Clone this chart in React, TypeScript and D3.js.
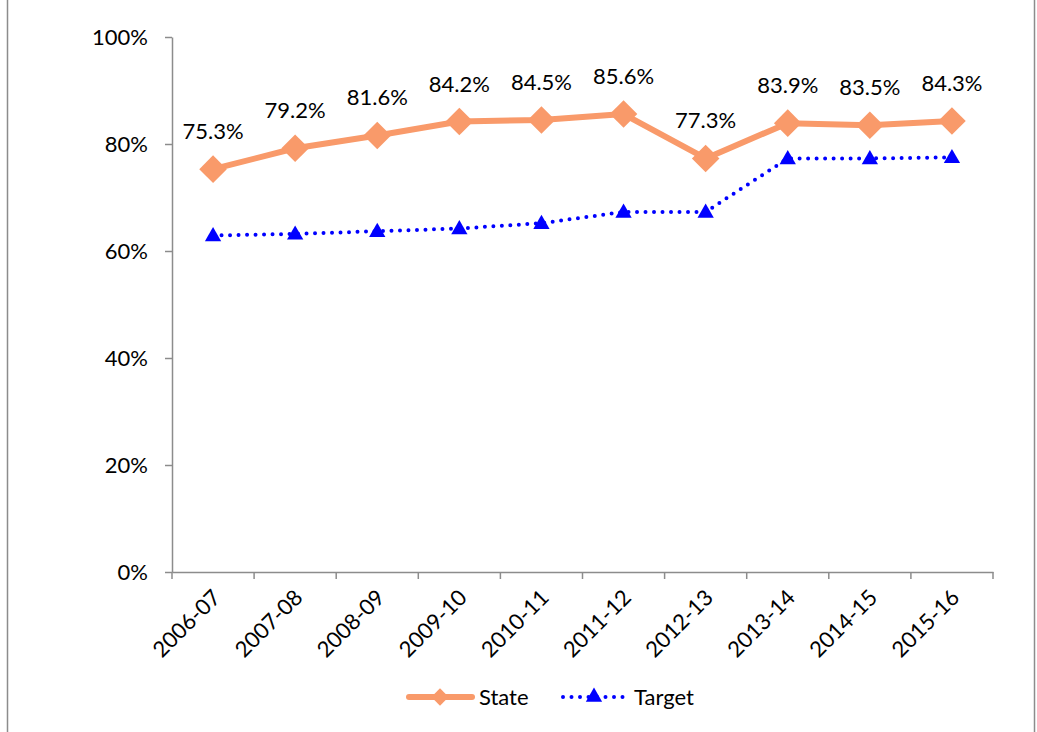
import { useRef, useEffect } from 'react';
import * as d3 from 'd3';

const years = ['2006-07', '2007-08', '2008-09', '2009-10', '2010-11', '2011-12', '2012-13', '2013-14', '2014-15', '2015-16'];
const stateValues = [75.3, 79.2, 81.6, 84.2, 84.5, 85.6, 77.3, 83.9, 83.5, 84.3];
const targetValues = [62.9, 63.2, 63.7, 64.2, 65.2, 67.3, 67.3, 77.3, 77.3, 77.5];
const yTicks = [0, 20, 40, 60, 80, 100];

const ORANGE = '#F99A6A';
const BLUE = '#0000FF';
const FONT = 'Lato, "Open Sans", sans-serif';
const FS = 22;

const App = () => {
  const svgRef = useRef<SVGSVGElement>(null);

  useEffect(() => {
    const svg = d3.select(svgRef.current);
    svg.selectAll('*').remove();
    const width = 1037;
    const height = 732;
    const margin = { top: 37, right: 44, bottom: 160, left: 172 };

    // frame of the chart area (cropped at top and bottom)
    svg.append('rect')
      .attr('x', 7.5).attr('y', -10)
      .attr('width', 1027).attr('height', height + 20)
      .attr('fill', 'none').attr('stroke', '#8c8c8c').attr('stroke-width', 1.5);

    const x = d3.scaleBand()
      .domain(years)
      .range([margin.left, width - margin.right]);

    const y = d3.scaleLinear()
      .domain([0, 100])
      .range([height - margin.bottom, margin.top]);

    const cx = (d: string) => (x(d) as number) + x.bandwidth() / 2;

    // y axis
    const yAxis = svg.append('g')
      .attr('transform', `translate(${margin.left},0)`)
      .call(d3.axisLeft(y).tickValues(yTicks).tickSize(7).tickSizeOuter(0).tickFormat(d => `${d}%`));
    yAxis.select('.domain').attr('stroke', '#8c8c8c').attr('stroke-width', 1.5);
    yAxis.selectAll('.tick line').attr('stroke', '#8c8c8c').attr('stroke-width', 1.5);
    yAxis.selectAll('.tick text')
      .attr('x', -24)
      .attr('font-family', FONT).attr('font-size', FS).attr('fill', '#000');

    // x axis
    const xAxis = svg.append('g')
      .attr('transform', `translate(0,${y(0)})`)
      .call(d3.axisBottom(x).tickSize(0).tickSizeOuter(0));
    xAxis.select('.domain').attr('stroke', '#8c8c8c').attr('stroke-width', 1.5);
    xAxis.selectAll('.tick text').remove();
    const bounds = [...years.map(d => x(d) as number), x.range()[1]];
    xAxis.selectAll('line.sep')
      .data(bounds)
      .join('line')
      .attr('class', 'sep')
      .attr('x1', d => d).attr('x2', d => d)
      .attr('y1', 0).attr('y2', 7)
      .attr('stroke', '#8c8c8c').attr('stroke-width', 1.5);
    svg.append('g')
      .selectAll('text')
      .data(years)
      .join('text')
      .attr('transform', d => `translate(${cx(d) - 2},${y(0) + 16}) rotate(-45)`)
      .attr('text-anchor', 'end')
      .attr('dy', '0.7em')
      .attr('font-family', FONT).attr('font-size', FS).attr('fill', '#000')
      .text(d => d);

    // target line
    const valueLine = d3.line<number>()
      .x((_, i) => cx(years[i]))
      .y(d => y(d));
    svg.append('path')
      .datum(targetValues)
      .attr('d', valueLine)
      .attr('fill', 'none')
      .attr('stroke', BLUE)
      .attr('stroke-width', 4)
      .attr('stroke-linecap', 'round')
      .attr('stroke-dasharray', '0 8.5');
    const tri = d3.symbol().type(d3.symbolTriangle).size(115);
    svg.append('g')
      .selectAll('path')
      .data(targetValues)
      .join('path')
      .attr('d', tri)
      .attr('transform', (d, i) => `translate(${cx(years[i])},${y(d) + 1})`)
      .attr('fill', BLUE);

    // state line
    svg.append('path')
      .datum(stateValues)
      .attr('d', valueLine)
      .attr('fill', 'none')
      .attr('stroke', ORANGE)
      .attr('stroke-width', 6)
      .attr('stroke-linejoin', 'round');
    const diamond = d3.symbol().type(d3.symbolSquare).size(380);
    svg.append('g')
      .selectAll('path')
      .data(stateValues)
      .join('path')
      .attr('d', diamond)
      .attr('transform', (d, i) => `translate(${cx(years[i])},${y(d)}) rotate(45)`)
      .attr('fill', ORANGE);

    // data labels
    svg.append('g')
      .selectAll('text')
      .data(stateValues)
      .join('text')
      .attr('x', (_, i) => cx(years[i]))
      .attr('y', d => y(d) - 30)
      .attr('text-anchor', 'middle')
      .attr('font-family', FONT).attr('font-size', FS).attr('fill', '#000')
      .text(d => `${d.toFixed(1)}%`);

    // legend
    const legend = svg.append('g').attr('transform', 'translate(0,697)');
    legend.append('line')
      .attr('x1', 409).attr('x2', 472).attr('y1', 0).attr('y2', 0)
      .attr('stroke', ORANGE).attr('stroke-width', 6).attr('stroke-linecap', 'round');
    legend.append('path')
      .attr('d', d3.symbol().type(d3.symbolSquare).size(150))
      .attr('transform', 'translate(440,0) rotate(45)')
      .attr('fill', ORANGE);
    legend.append('text')
      .attr('x', 479).attr('y', 0).attr('dy', '0.35em')
      .attr('font-family', FONT).attr('font-size', FS).attr('fill', '#000')
      .text('State');
    legend.append('line')
      .attr('x1', 563).attr('x2', 625).attr('y1', 0).attr('y2', 0)
      .attr('stroke', BLUE).attr('stroke-width', 4)
      .attr('stroke-linecap', 'round').attr('stroke-dasharray', '0 8.5');
    legend.append('path')
      .attr('d', d3.symbol().type(d3.symbolTriangle).size(115))
      .attr('transform', 'translate(594,0)')
      .attr('fill', BLUE);
    legend.append('text')
      .attr('x', 634).attr('y', 0).attr('dy', '0.35em')
      .attr('font-family', FONT).attr('font-size', FS).attr('fill', '#000')
      .text('Target');
  }, []);

  return (
    <svg
      ref={svgRef}
      width={1037}
      height={732}
      style={{ position: 'absolute', left: 0, top: 0, background: '#fff' }}
    />
  );
};

export default App;
